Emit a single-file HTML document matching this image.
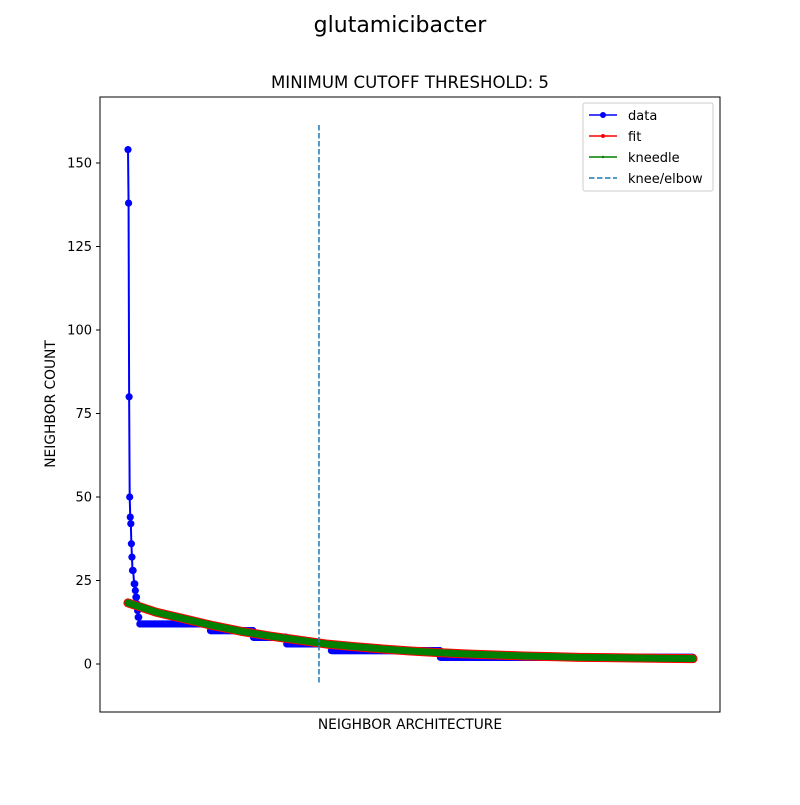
<!DOCTYPE html>
<html><head><meta charset="utf-8"><style>
body{margin:0;background:#fff;font-family:"Liberation Sans","DejaVu Sans",sans-serif}
svg text{font-family:"DejaVu Sans","Liberation Sans",sans-serif}
</style></head><body>
<svg id="chart" width="800" height="800" xmlns="http://www.w3.org/2000/svg">
<rect width="800" height="800" fill="#fff"/>
<text x="400" y="32" font-size="22" text-anchor="middle">glutamicibacter</text>
<text x="410" y="88" font-size="16.6" text-anchor="middle">MINIMUM CUTOFF THRESHOLD: 5</text>
<text x="410" y="729" font-size="13.8" text-anchor="middle">NEIGHBOR ARCHITECTURE</text>
<text x="55" y="404" font-size="13.8" text-anchor="middle" transform="rotate(-90 55 404)">NEIGHBOR COUNT</text>
<g id="yticks"></g>
<g id="plot"></g>
<rect x="100" y="97" width="620" height="615" fill="none" stroke="#000" stroke-width="1"/>
<g>
<rect x="583" y="103" width="130" height="88" fill="#fff" stroke="#ccc" rx="2"/>
<g><line x1="589" y1="115" x2="617" y2="115" stroke="#0000ff" stroke-width="1.5"/><circle cx="603" cy="115" r="3" fill="#0000ff"/><text x="628" y="120" font-size="13">data</text></g>
<g><line x1="589" y1="136" x2="617" y2="136" stroke="#ff0000" stroke-width="1.5"/><circle cx="603" cy="136" r="2" fill="#ff0000"/><text x="628" y="141" font-size="13">fit</text></g>
<g><line x1="589" y1="157" x2="617" y2="157" stroke="#008000" stroke-width="1.5"/><circle cx="603" cy="157" r="1.2" fill="#008000"/><text x="628" y="162" font-size="13">kneedle</text></g>
<g><line x1="589" y1="178" x2="617" y2="178" stroke="#1f77b4" stroke-width="1.5" stroke-dasharray="5.5,2.5"/><text x="628" y="183" font-size="13">knee/elbow</text></g>
</g>
</svg>
<script>
const headValues=[154,138,80,50,44,42,36,32,28,28,24,24,22,20,20,18,16,14,14];
const runValues=[12,10,8,6,4,2];
const runEnds=[145,221,280,359,552,1000];
const fitIdx=[0,50,100,150,200,250,300,350,400,450,500,550,600,650,700,750,800,850,900,950,1000];
const fitVals=[18.3,15.5,13.5,11.5,9.8,8.4,7.2,6.0,5.2,4.5,3.9,3.4,3.0,2.7,2.4,2.2,2.0,1.9,1.8,1.7,1.6];
const kneeIdx=338;
const yTicks=[0,25,50,75,100,125,150];
const NS="http://www.w3.org/2000/svg";
const xs=i=>128+i*0.565;
const ys=v=>664-v*(501/150);
function mk(t,a,p){const e=document.createElementNS(NS,t);for(const k in a)e.setAttribute(k,a[k]);p.appendChild(e);return e;}
const yt=document.getElementById('yticks');
yTicks.forEach(v=>{
 const l=mk('line',{x1:96,x2:100,y1:ys(v),y2:ys(v),stroke:'#000'},yt);
 
 
 const t=mk('text',{x:92,y:ys(v)+4.5,'font-size':13,'text-anchor':'end'},yt);
 t.textContent=v;
 
 
});
const plot=document.getElementById('plot');
const pts=[];
headValues.forEach((v,k)=>pts.push([Math.round(k*20/headValues.length),v]));
let s=21;
runValues.forEach((v,k)=>{for(let i=s;i<=runEnds[k];i++)pts.push([i,v]);s=runEnds[k]+1;});
const dl=mk('polyline',{points:pts.map(p=>xs(p[0])+','+ys(p[1])).join(' '),fill:'none',stroke:'#0000ff','stroke-width':2},plot);


const dg=mk('g',{fill:'#0000ff'},plot);


pts.forEach(p=>mk('circle',{cx:xs(p[0]),cy:ys(p[1]),r:3.6},dg));
const fp=fitIdx.map((i,k)=>xs(i)+','+ys(fitVals[k])).join(' ');
const fl=mk('polyline',{points:fp,fill:'none',stroke:'#ff0000','stroke-width':9,'stroke-linecap':'round','stroke-linejoin':'round'},plot);


const kl=mk('polyline',{points:fp,fill:'none',stroke:'#008000','stroke-width':7,'stroke-linecap':'round','stroke-linejoin':'round'},plot);


const kn=mk('line',{x1:xs(kneeIdx),x2:xs(kneeIdx),y1:125,y2:684,stroke:'#1f77b4','stroke-width':1.5,'stroke-dasharray':'5.5,2.5'},plot);


</script>
</body></html>
